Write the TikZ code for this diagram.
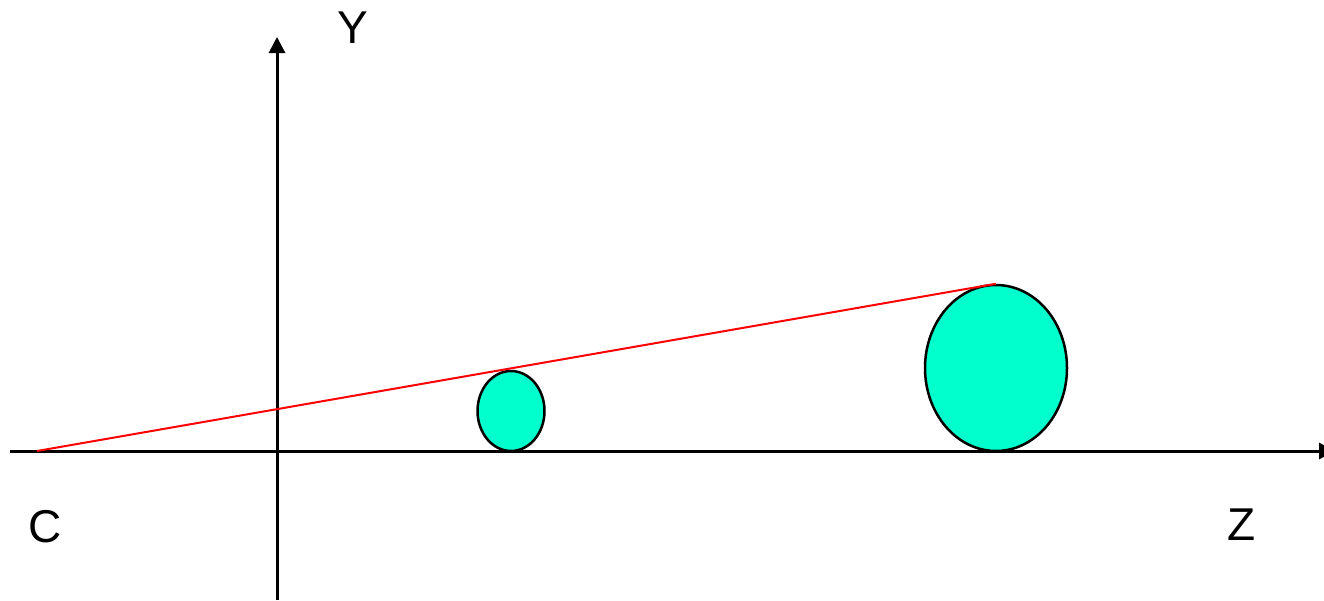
\documentclass[tikz,border=0pt]{standalone}
\usepackage{fontspec}
\setmainfont{Liberation Sans}
\usetikzlibrary{arrows.meta,shapes.geometric}
\definecolor{ballcyan}{RGB}{0,255,204}
\begin{document}
\begin{tikzpicture}[x=1pt,y=-1pt,
  axis/.style={line width=3pt,-{Triangle[length=16pt,width=16pt]}},
  ball/.style={ellipse,draw,line width=2.5pt,fill=ballcyan,inner sep=0pt},
  lbl/.style={font=\fontsize{46}{50}\selectfont,inner sep=0pt}]
\useasboundingbox (0,0) rectangle (1324,600);
\coordinate (xs) at (10,451);
\coordinate (xe) at (1335,451);
\coordinate (ys) at (277,600);
\coordinate (ye) at (277,37);
\draw[axis] (xs) -- (xe);
\draw[axis] (ys) -- (ye);
\node[ball,minimum width=67pt,minimum height=80pt] (small) at (511,411) {};
\node[ball,minimum width=142pt,minimum height=166pt] (big) at (996,368) {};
\coordinate (C) at (37,451);
\draw[red,line width=2pt] (C) -- (big.north);
\node[lbl] (ylab) at (353,28) {Y};
\node[lbl] (clab) at (45,527) {C};
\node[lbl] (zlab) at (1242,525) {Z};
\end{tikzpicture}
\end{document}
